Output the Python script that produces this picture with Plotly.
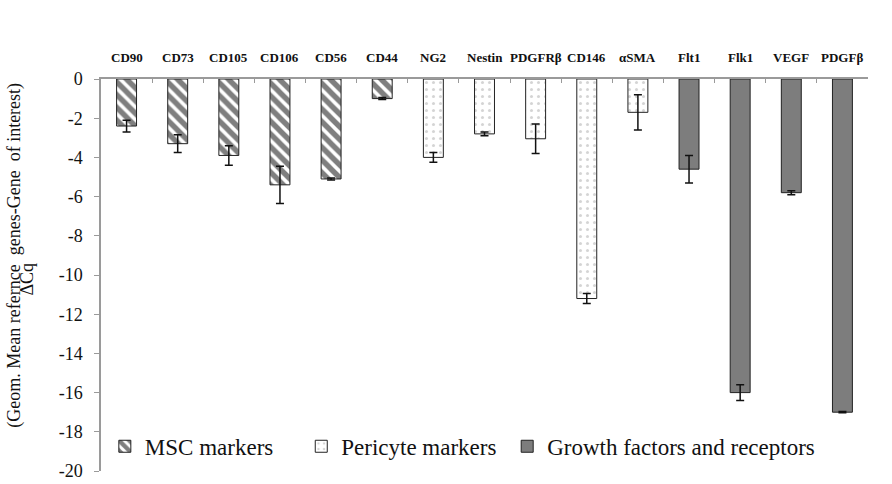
import plotly.graph_objects as go

# ---- data ----
msc_genes = ["CD90", "CD73", "CD105", "CD106", "CD56", "CD44"]
msc_values = [-2.4, -3.3, -3.9, -5.4, -5.1, -1.0]
msc_err = [0.3, 0.45, 0.5, 0.95, 0.05, 0.05]

peri_genes = ["NG2", "Nestin", "PDGFRβ", "CD146", "αSMA"]
peri_values = [-4.0, -2.8, -3.05, -11.2, -1.7]
peri_err = [0.25, 0.1, 0.75, 0.25, 0.9]

gf_genes = ["Flt1", "Flk1", "VEGF", "PDGFβ"]
gf_values = [-4.6, -16.0, -5.8, -17.0]
gf_err = [0.7, 0.4, 0.1, 0.03]

y_ticks = [0, -2, -4, -6, -8, -10, -12, -14, -16, -18, -20]

all_genes = msc_genes + peri_genes + gf_genes
n_cat = len(all_genes)
boundaries = [i - 0.5 for i in range(n_cat + 1)]
SERIF = "Liberation Serif"
NB = "\u00a0"

err_style = dict(type="data", visible=True, color="#111", thickness=1.5, width=4)
line_style = dict(color="#222", width=1)

fig = go.Figure()
fig.add_trace(go.Bar(
    x=msc_genes, y=msc_values, name="MSC markers" + NB * 4,
    error_y=dict(array=msc_err, **err_style),
    marker=dict(color="white", line=line_style,
                pattern=dict(shape="\\", fgcolor="#000", bgcolor="white",
                             size=9, solidity=0.6)),
))
fig.add_trace(go.Bar(
    x=peri_genes, y=peri_values, name="Pericyte markers" + NB * 1,
    error_y=dict(array=peri_err, **err_style),
    marker=dict(color="white", line=line_style,
                pattern=dict(shape=".", fgcolor="#aaaaaa", bgcolor="white",
                             size=7, solidity=0.15)),
))
fig.add_trace(go.Bar(
    x=gf_genes, y=gf_values, name="Growth factors and receptors",
    error_y=dict(array=gf_err, **err_style),
    marker=dict(color="#7d7d7d", line=line_style),
))
# empty trace to carry the boundary-tick axis
fig.add_trace(go.Scatter(x=[], y=[], xaxis="x2", showlegend=False, hoverinfo="skip"))

# category labels above the top axis
label_annotations = [
    dict(text="<b>" + g + "</b>", x=g, xref="x", y=1, yref="paper",
         xanchor="center", yanchor="bottom", yshift=12,
         showarrow=False, font=dict(family=SERIF, size=13, color="#111"))
    for g in all_genes
]

fig.update_layout(
    width=892, height=484,
    margin=dict(l=101, r=24, t=79, b=13),
    plot_bgcolor="white", paper_bgcolor="white",
    barmode="overlay", bargap=0.61,
    font=dict(family=SERIF, color="#111"),
    showlegend=True,
    legend=dict(orientation="h", x=0.005, y=0.063, xanchor="left", yanchor="middle",
                font=dict(family=SERIF, size=23, color="#111"),
                bgcolor="rgba(0,0,0,0)", itemwidth=30, traceorder="normal"),
    xaxis=dict(side="top", type="category", categoryorder="array",
               categoryarray=all_genes, range=[-0.5, n_cat - 0.5],
               showticklabels=False, automargin=False,
               showline=True, linecolor="#9a9a9a", linewidth=1.5,
               ticks="", showgrid=False, zeroline=False),
    xaxis2=dict(overlaying="x", side="top", anchor="y", range=[-0.5, n_cat - 0.5],
                tickvals=boundaries, showticklabels=False, automargin=False,
                ticks="inside", ticklen=4, tickcolor="#9a9a9a", tickwidth=1,
                showline=False, showgrid=False, zeroline=False),
    yaxis=dict(range=[-20, 0], tickvals=y_ticks, ticktext=[str(v) for v in y_ticks],
               tickfont=dict(family=SERIF, size=18, color="#111"), automargin=False,
               showline=True, linecolor="#9a9a9a", linewidth=1.5,
               ticks="outside", ticklen=5, tickcolor="#9a9a9a",
               ticklabelstandoff=8, showgrid=False, zeroline=False),
    annotations=label_annotations + [
        dict(text="(Geom. Mean refernce  genes-Gene  of interest)", textangle=-90,
             xref="paper", yref="paper", x=-0.113, y=0.55, xanchor="center",
             yanchor="middle", showarrow=False,
             font=dict(family=SERIF, size=18, color="#111")),
        dict(text="ΔCq", textangle=-90,
             xref="paper", yref="paper", x=-0.097, y=0.49, xanchor="center",
             yanchor="middle", showarrow=False,
             font=dict(family=SERIF, size=18, color="#111")),
    ],
)

fig.write_html("out.html", post_script="document.body.style.margin='0px';",
               config={"displayModeBar": False})
